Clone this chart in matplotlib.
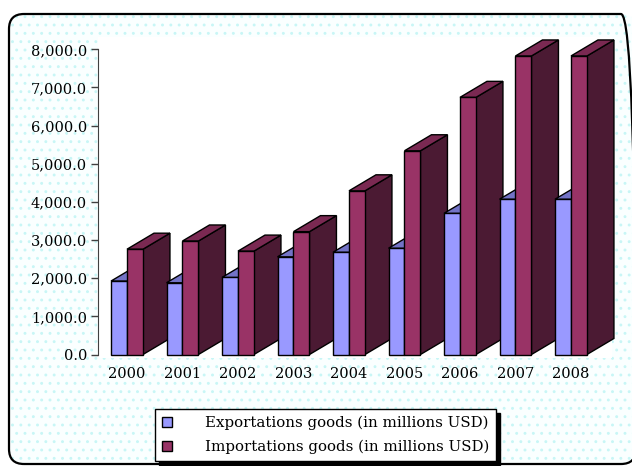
import matplotlib
matplotlib.use("Agg")
import matplotlib.pyplot as plt
from matplotlib.patches import Polygon, Rectangle, FancyBboxPatch, Patch
from matplotlib.transforms import IdentityTransform

# data
years = ["2000", "2001", "2002", "2003", "2004", "2005", "2006", "2007", "2008"]
exports = [1925, 1880, 2020, 2560, 2680, 2785, 3700, 4070, 4070]
imports = [2760, 2975, 2710, 3220, 4290, 5340, 6740, 7825, 7825]
yticks = [0, 1000, 2000, 3000, 4000, 5000, 6000, 7000, 8000]

exp_colors = ("#9999FF", "#7373C6", "#5A5AA0")   # front, top, side
imp_colors = ("#993366", "#7A2952", "#4B1A33")

W = 0.288    # bar width in category units
DX = 0.486   # depth offset (category units)
DY = 420     # depth offset (value units)

plt.rcParams["font.family"] = "DejaVu Serif"
plt.rcParams["hatch.linewidth"] = 0.9

fig = plt.figure(figsize=(6.32, 4.66), dpi=100)
fw, fh = 632, 466

# chart area (pixel coords): dotted fill, then rounded border on top
area = dict(boxstyle="round,pad=0,rounding_size=15", transform=IdentityTransform())
fig.patches.append(FancyBboxPatch((9, fh - 464), 627, 450,
                                  facecolor="#FAFFFF", edgecolor="#C8F6F6",
                                  linewidth=0, hatch="..", zorder=-4, **area))
fig.patches.append(FancyBboxPatch((9, fh - 464), 627, 450,
                                  facecolor="none", edgecolor="black",
                                  linewidth=1.6, zorder=-3, **area))

# white plot area
fig.patches.append(Rectangle((98 / fw, 1 - 358 / fh), (612 - 98) / fw, (358 - 37) / fh,
                             transform=fig.transFigure, facecolor="white",
                             edgecolor="none", zorder=-2))

ax = fig.add_axes([98 / fw, 1 - 354.5 / fh, (612 - 98) / fw, (354.5 - 49.3) / fh])
ax.patch.set_visible(False)
ax.set_xlim(-0.5225, 8.739)
ax.set_ylim(0, 8000)


def box(x0, v, colors):
    front, top, side = colors
    kw = dict(edgecolor="black", linewidth=1.0, joinstyle="miter", clip_on=False)
    ax.add_patch(Polygon([(x0 + W, 0), (x0 + W + DX, DY), (x0 + W + DX, v + DY), (x0 + W, v)],
                         facecolor=side, **kw))
    ax.add_patch(Polygon([(x0, v), (x0 + W, v), (x0 + W + DX, v + DY), (x0 + DX, v + DY)],
                         facecolor=top, **kw))
    ax.add_patch(Rectangle((x0, 0), W, v, facecolor=front, **kw))


for i in range(len(years)):
    box(i - W, exports[i], exp_colors)
    box(i, imports[i], imp_colors)

ax.set_yticks(yticks)
ax.set_yticklabels([f"{t:,.1f}" for t in yticks])
ax.set_xticks(range(len(years)))
ax.set_xticklabels(years)
ax.tick_params(axis="y", length=5, width=1, color="#404040", pad=3, labelsize=10.5)
ax.tick_params(axis="x", length=0, pad=9, labelsize=10.5)
for s in ["top", "right", "bottom"]:
    ax.spines[s].set_visible(False)
ax.spines["left"].set_color("#404040")

handles = [Patch(facecolor=exp_colors[0], edgecolor="black", linewidth=1),
           Patch(facecolor=imp_colors[0], edgecolor="black", linewidth=1)]
leg = fig.legend(handles, ["Exportations goods (in millions USD)",
                           "Importations goods (in millions USD)"],
                 loc="upper left", bbox_to_anchor=(155 / fw, 1 - 409 / fh),
                 fontsize=10.8, frameon=True, fancybox=False,
                 handlelength=0.7, handleheight=0.7, handletextpad=2.2,
                 borderpad=0.45, labelspacing=0.65, borderaxespad=0,
                 shadow={"ox": 3, "oy": -3, "color": "black", "alpha": 1})
leg.get_frame().set_edgecolor("black")
leg.get_frame().set_linewidth(1)

fig.savefig("out.png", dpi=100)
